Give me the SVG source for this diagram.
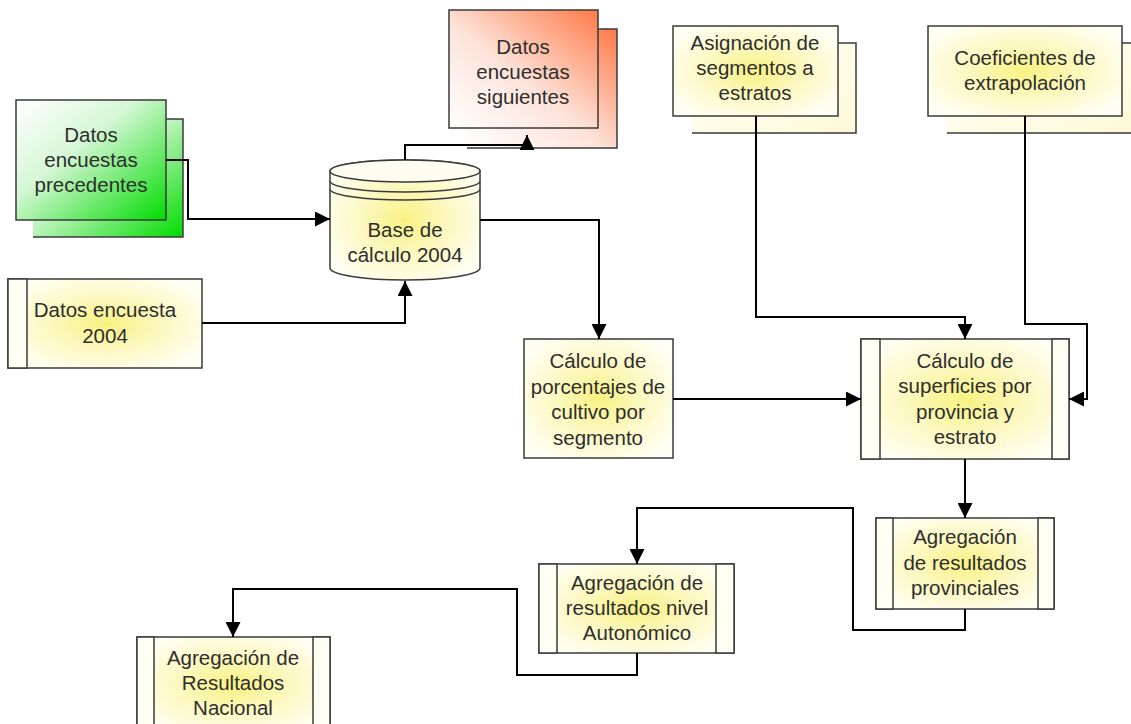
<svg xmlns="http://www.w3.org/2000/svg" width="1131" height="724" viewBox="0 0 1131 724">
<style>
.box{stroke:#3a3a3a;stroke-width:1.5}
.edge{fill:none;stroke:#3a3a3a;stroke-width:1.5}
.band{fill:#fffff4;stroke:#3a3a3a;stroke-width:1.5}
.t{font-family:"Liberation Sans",Arial,sans-serif;font-size:20.5px;fill:#2e2e2e;text-anchor:middle}
.c{fill:none;stroke:#000;stroke-width:2;marker-end:url(#ah)}
</style>
<defs>
<marker id="ah" markerUnits="userSpaceOnUse" markerWidth="15" markerHeight="15" refX="15" refY="7.5" orient="auto" viewBox="0 0 15 15">
<path d="M0,0 L15,7.5 L0,15 z" fill="#000"/>
</marker>
<radialGradient id="yel" cx="50%" cy="50%" r="60%">
<stop offset="0" stop-color="#f8f282"/>
<stop offset="0.5" stop-color="#fcf8c2"/>
<stop offset="1" stop-color="#fffff4"/>
</radialGradient>
<linearGradient id="yelBack" x1="0" y1="0" x2="1" y2="1">
<stop offset="0" stop-color="#fffff8"/>
<stop offset="1" stop-color="#fdfad8"/>
</linearGradient>
<linearGradient id="grn" x1="0" y1="0" x2="1" y2="1">
<stop offset="0" stop-color="#ffffff"/>
<stop offset="0.4" stop-color="#d6f7d6"/>
<stop offset="1" stop-color="#00dc00"/>
</linearGradient>
<linearGradient id="org" x1="0" y1="1" x2="1" y2="0">
<stop offset="0" stop-color="#ffffff"/>
<stop offset="0.45" stop-color="#fde3da"/>
<stop offset="1" stop-color="#ff7a48"/>
</linearGradient>
</defs>
<rect width="1131" height="724" fill="#ffffff"/>

<g id="datos-precedentes">
<rect x="33" y="119" width="150" height="118" fill="url(#grn)"/>
<path class="edge" d="M166,119 H183 V237 H33"/>
<rect class="box" x="16" y="100" width="150" height="120" fill="url(#grn)"/>
<text class="t" x="91" y="142">Datos</text>
<text class="t" x="91" y="167">encuestas</text>
<text class="t" x="91" y="192">precedentes</text>
</g>

<g id="datos-siguientes">
<rect x="467" y="29" width="150" height="119" fill="url(#org)"/>
<path class="edge" d="M598,29 H617 V148 H467"/>
<rect class="box" x="449" y="10" width="149" height="118" fill="url(#org)"/>
<text class="t" x="523" y="54">Datos</text>
<text class="t" x="523" y="79">encuestas</text>
<text class="t" x="523" y="104">siguientes</text>
</g>

<g id="base-calculo">
<path class="box" fill="url(#yel)" d="M330,171 V268 A75,12 0 0 0 480,268 V171 A75,11 0 0 0 330,171 Z"/>
<ellipse class="box" cx="405" cy="171" rx="75" ry="11" fill="#fffdf0"/>
<path class="edge" d="M330,181 A75,11 0 0 0 480,181"/>
<path class="edge" d="M330,189 A75,11 0 0 0 480,189"/>
<text class="t" x="405" y="237">Base de</text>
<text class="t" x="405" y="262">cálculo 2004</text>
</g>

<g id="datos-2004">
<rect class="box" x="8" y="279" width="194" height="89" fill="url(#yel)"/>
<rect class="band" x="8" y="279" width="19" height="89"/>
<text class="t" x="105" y="317">Datos encuesta</text>
<text class="t" x="105" y="343">2004</text>
</g>

<g id="asignacion">
<rect x="692" y="43" width="164" height="90" fill="url(#yelBack)"/>
<path class="edge" d="M838,43 H856 V133 H692"/>
<rect class="box" x="673" y="26" width="165" height="90" fill="url(#yel)"/>
<text class="t" x="755" y="50">Asignación de</text>
<text class="t" x="755" y="75">segmentos a</text>
<text class="t" x="755" y="100">estratos</text>
</g>

<g id="coeficientes">
<rect x="947" y="43" width="194" height="90" fill="url(#yelBack)"/>
<path class="edge" d="M1122,43 H1141 V133 H947"/>
<rect class="box" x="928" y="26" width="194" height="90" fill="url(#yel)"/>
<text class="t" x="1025" y="65">Coeficientes de</text>
<text class="t" x="1025" y="90">extrapolación</text>
</g>

<g id="porcentajes">
<rect class="box" x="524" y="339" width="149" height="119" fill="url(#yel)"/>
<text class="t" x="598" y="368">Cálculo de</text>
<text class="t" x="598" y="393.5">porcentajes de</text>
<text class="t" x="598" y="419">cultivo por</text>
<text class="t" x="598" y="444.5">segmento</text>
</g>

<g id="superficies">
<rect class="box" x="861" y="339" width="208" height="120" fill="url(#yel)"/>
<rect class="band" x="861" y="339" width="19" height="120"/>
<rect class="band" x="1052" y="339" width="17" height="120"/>
<text class="t" x="965" y="368">Cálculo de</text>
<text class="t" x="965" y="393">superficies por</text>
<text class="t" x="965" y="419">provincia y</text>
<text class="t" x="965" y="444">estrato</text>
</g>

<g id="provinciales">
<rect class="box" x="876" y="518" width="178" height="91" fill="url(#yel)"/>
<rect class="band" x="876" y="518" width="17" height="91"/>
<rect class="band" x="1038" y="518" width="16" height="91"/>
<text class="t" x="965" y="544">Agregación</text>
<text class="t" x="965" y="570">de resultados</text>
<text class="t" x="965" y="595">provinciales</text>
</g>

<g id="autonomico">
<rect class="box" x="539" y="564" width="195" height="89" fill="url(#yel)"/>
<rect class="band" x="539" y="564" width="18" height="89"/>
<rect class="band" x="716" y="564" width="18" height="89"/>
<text class="t" x="637" y="590">Agregación de</text>
<text class="t" x="637" y="615">resultados nivel</text>
<text class="t" x="637" y="640">Autonómico</text>
</g>

<g id="nacional">
<rect class="box" x="137" y="637" width="193" height="95" fill="url(#yel)"/>
<rect class="band" x="137" y="637" width="17" height="95"/>
<rect class="band" x="313" y="637" width="17" height="95"/>
<text class="t" x="233" y="665">Agregación de</text>
<text class="t" x="233" y="690">Resultados</text>
<text class="t" x="233" y="715">Nacional</text>
</g>

<g id="connectors">
<path class="c" d="M166,160 H188 V219 H330"/>
<path class="c" d="M202,323 H405 V281"/>
<path class="c" d="M405,160 V145 H527 V135"/>
<path class="c" d="M480,220 H599 V339"/>
<path class="c" d="M673,399 H861"/>
<path class="c" d="M756,116 V317 H965 V339"/>
<path class="c" d="M1025,116 V324 H1087 V399 H1069"/>
<path class="c" d="M965,459 V518"/>
<path class="c" d="M965,609 V630 H853 V508 H637 V564"/>
<path class="c" d="M637,653 V675 H517 V589 H233 V637"/>
</g>
</svg>
